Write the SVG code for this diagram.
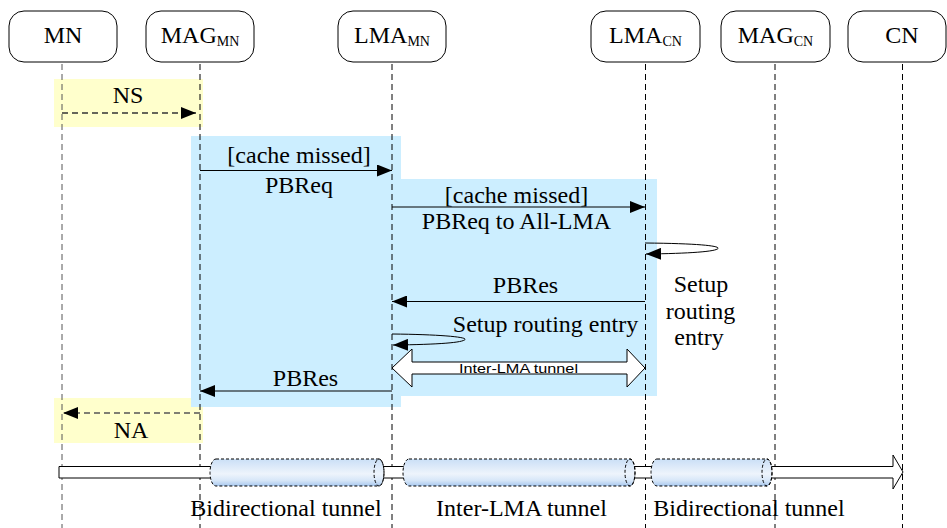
<svg xmlns="http://www.w3.org/2000/svg" width="947" height="528" viewBox="0 0 947 528">
<style>
.box{fill:#fff;stroke:#000;stroke-width:1}
.t{font-family:'Liberation Serif','Times New Roman','DejaVu Serif',serif;font-size:24px;fill:#000}
.sub{font-size:14px}
.life{stroke:#000;stroke-width:1;stroke-dasharray:6,4;fill:none}
.msg{stroke:#000;stroke-width:1;fill:none;marker-end:url(#ah)}
.dmsg{stroke:#333;stroke-width:1.3;stroke-dasharray:6,4;fill:none;marker-end:url(#ah)}
.cyl{fill:url(#cg);stroke:#000;stroke-width:1;stroke-dasharray:3,2}
</style>
<defs>
<marker id="ah" viewBox="0 0 15 12" refX="15" refY="6" markerWidth="15" markerHeight="12" markerUnits="userSpaceOnUse" orient="auto">
<path d="M0,0 L15,6 L0,12 Z" fill="#000"/>
</marker>
<linearGradient id="cg" x1="0" y1="0" x2="0" y2="1">
<stop offset="0" stop-color="#cadff6"/>
<stop offset="0.55" stop-color="#eef4fc"/>
<stop offset="0.8" stop-color="#d6e6f8"/>
<stop offset="1" stop-color="#a9c8ee"/>
</linearGradient>
</defs>
<rect width="947" height="528" fill="#fff"/>

<g id="backgrounds">
<rect x="54" y="79" width="149" height="48" fill="#ffffcc"/>
<rect x="54" y="398" width="149" height="45" fill="#ffffcc"/>
<path d="M191,136 H401 V179 H657 V396 H401 V407 H191 Z" fill="#cceeff"/>
</g>

<g id="lifelines">
<line class="life" x1="62" y1="64" x2="62" y2="528" style="stroke:#555"/>
<line class="life" x1="200" y1="64" x2="200" y2="528"/>
<line class="life" x1="392" y1="64" x2="392" y2="528"/>
<line class="life" x1="645.5" y1="64" x2="645.5" y2="528"/>
<line class="life" x1="775" y1="64" x2="775" y2="528"/>
<line class="life" x1="902.5" y1="64" x2="902.5" y2="528"/>
</g>

<g font-family="Liberation Serif, Times New Roman, DejaVu Serif, serif">
<g id="node-MN"><rect class="box" x="9" y="11" width="108" height="51" rx="15"/><text class="t" x="63" y="43" text-anchor="middle">MN</text></g>
<g id="node-MAG_MN"><rect class="box" x="146" y="11" width="108" height="51" rx="15"/><text class="t" x="200" y="43" text-anchor="middle">MAG<tspan class="sub" dy="3">MN</tspan></text></g>
<g id="node-LMA_MN"><rect class="box" x="338" y="11" width="108" height="51" rx="15"/><text class="t" x="392" y="43" text-anchor="middle">LMA<tspan class="sub" dy="3">MN</tspan></text></g>
<g id="node-LMA_CN"><rect class="box" x="591" y="11" width="109" height="51" rx="15"/><text class="t" x="645.5" y="43" text-anchor="middle">LMA<tspan class="sub" dy="3">CN</tspan></text></g>
<g id="node-MAG_CN"><rect class="box" x="721" y="11" width="109" height="51" rx="15"/><text class="t" x="775.5" y="43" text-anchor="middle">MAG<tspan class="sub" dy="3">CN</tspan></text></g>
<g id="node-CN"><rect class="box" x="848" y="11" width="98" height="51" rx="15"/><text class="t" x="902" y="43" text-anchor="middle">CN</text></g>
</g>

<g id="connectors">
<line class="dmsg" x1="62" y1="113" x2="196" y2="113"/>
<line class="msg" x1="200" y1="170.5" x2="392" y2="170.5"/>
<line class="msg" x1="392" y1="207" x2="645" y2="207"/>
<path class="msg" d="M645,243 C700,243.5 720,246 718,248.5 C716,251.5 690,253.5 646,254"/>
<line class="msg" x1="645" y1="301.5" x2="392" y2="301.5"/>
<path class="msg" d="M392,334 C440,334.5 467,337 465,339.5 C463,342.5 440,344.5 393,345"/>
<polygon points="392,368 412,349 412,362 627,362 627,349 645,368 627,387 627,374 412,374 412,387" fill="#fff" stroke="#000" stroke-width="1"/>
<line class="msg" x1="392" y1="391" x2="200" y2="391"/>
<line class="dmsg" x1="200" y1="413" x2="63" y2="413" style="stroke:#555"/>
</g>

<g id="labels" font-family="Liberation Serif, Times New Roman, DejaVu Serif, serif">
<text class="t" x="128" y="103" text-anchor="middle">NS</text>
<text class="t" x="299" y="163" text-anchor="middle">[cache missed]</text>
<text class="t" x="299" y="193" text-anchor="middle">PBReq</text>
<text class="t" x="516.5" y="202.5" text-anchor="middle">[cache missed]</text>
<text class="t" x="516.5" y="229" text-anchor="middle">PBReq to All-LMA</text>
<text class="t" x="525.5" y="293" text-anchor="middle">PBRes</text>
<text class="t" x="701" y="291.5" text-anchor="middle">Setup</text>
<text class="t" x="700.5" y="318.5" text-anchor="middle">routing</text>
<text class="t" x="699" y="345" text-anchor="middle">entry</text>
<text class="t" x="545.5" y="331.5" text-anchor="middle">Setup routing entry</text>
<text x="518.5" y="373" text-anchor="middle" font-family="Liberation Sans, Arial, sans-serif" font-size="13" textLength="119" lengthAdjust="spacingAndGlyphs">Inter-LMA tunnel</text>
<text class="t" x="305.5" y="386" text-anchor="middle">PBRes</text>
<text class="t" x="131" y="438" text-anchor="middle">NA</text>
</g>

<g id="tunnel-bar">
<path d="M59,466.5 H893 V455 L903,472 L893,489 V478 H59 Z" fill="#fff" stroke="#000" stroke-width="1"/>
<g id="cyl1">
<path class="cyl" d="M216,459 H379 A5,13.5 0 0 1 379,486 H216 A6,13.5 0 0 1 216,459 Z"/>
<ellipse cx="379" cy="472.5" rx="5" ry="13.5" fill="none" stroke="#000" stroke-dasharray="3,2"/>
</g>
<g id="cyl2">
<path class="cyl" d="M409,459 H630 A5,13.5 0 0 1 630,486 H409 A6,13.5 0 0 1 409,459 Z"/>
<ellipse cx="630" cy="472.5" rx="5" ry="13.5" fill="none" stroke="#000" stroke-dasharray="3,2"/>
</g>
<g id="cyl3">
<path class="cyl" d="M657,459 H767 A5,13.5 0 0 1 767,486 H657 A6,13.5 0 0 1 657,459 Z"/>
<ellipse cx="767" cy="472.5" rx="5" ry="13.5" fill="none" stroke="#000" stroke-dasharray="3,2"/>
</g>
<g font-family="Liberation Serif, Times New Roman, DejaVu Serif, serif">
<text class="t" x="286" y="516" text-anchor="middle">Bidirectional tunnel</text>
<text class="t" x="521.5" y="516" text-anchor="middle">Inter-LMA tunnel</text>
<text class="t" x="749" y="516" text-anchor="middle">Bidirectional tunnel</text>
</g>
</g>
</svg>
